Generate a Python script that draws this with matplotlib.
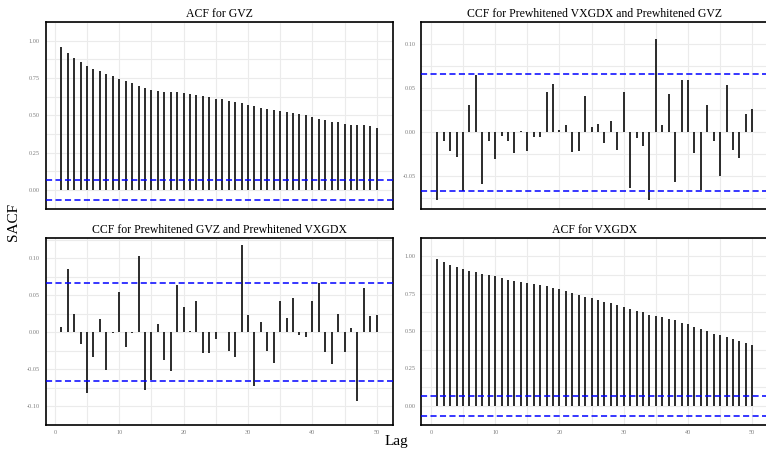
import numpy as np
import matplotlib
matplotlib.use('Agg')
import matplotlib.pyplot as plt

lags = list(range(1, 51))

acf_gvz = [0.956, 0.916, 0.882, 0.854, 0.832, 0.812, 0.794, 0.776, 0.762, 0.746,
           0.728, 0.714, 0.698, 0.682, 0.672, 0.662, 0.656, 0.656, 0.656, 0.650,
           0.644, 0.638, 0.630, 0.620, 0.612, 0.606, 0.598, 0.590, 0.580, 0.572,
           0.560, 0.548, 0.540, 0.532, 0.530, 0.524, 0.516, 0.508, 0.500, 0.488,
           0.476, 0.466, 0.458, 0.452, 0.440, 0.438, 0.436, 0.434, 0.428, 0.414]

ccf_vx_gvz = [-0.0773, -0.0100, -0.0216, -0.0277, -0.0665, 0.0306, 0.0645, -0.0586, -0.0100, -0.0303,
              -0.0043, -0.0099, -0.0230, 0.0014, -0.0210, -0.0058, -0.0058, 0.0457, 0.0545, 0.0025,
              0.0083, -0.0220, -0.0210, 0.0408, 0.0065, 0.0090, -0.0120, 0.0128, -0.0205, 0.0457,
              -0.0630, -0.0068, -0.0158, -0.0766, 0.1060, 0.0079, 0.0435, -0.0567, 0.0596, 0.0592,
              -0.0230, -0.0655, 0.0306, -0.0097, -0.0500, 0.0536, -0.0198, -0.0288, 0.0205, 0.0266]

ccf_gvz_vx = [0.0066, 0.0856, 0.0251, -0.0156, -0.0823, -0.0337, 0.0173, -0.0506, -0.0008, 0.0539,
              -0.0198, -0.0016, 0.1029, -0.0786, -0.0650, 0.0107, -0.0383, -0.0523, 0.0642, 0.0342,
              0.0020, 0.0428, -0.0288, -0.0288, -0.0097, 0.0006, -0.0251, -0.0335, 0.1177, 0.0235,
              -0.0728, 0.0132, -0.0256, -0.0420, 0.0421, 0.0189, 0.0463, -0.0037, -0.0062, 0.0418,
              0.0667, -0.0263, -0.0432, 0.0243, -0.0272, 0.0053, -0.0926, 0.0601, 0.0224, 0.0230]

acf_vx = [0.980, 0.961, 0.943, 0.928, 0.912, 0.900, 0.892, 0.881, 0.873, 0.865,
          0.855, 0.843, 0.836, 0.826, 0.820, 0.814, 0.808, 0.800, 0.789, 0.779,
          0.769, 0.755, 0.740, 0.728, 0.718, 0.708, 0.697, 0.687, 0.675, 0.661,
          0.648, 0.636, 0.624, 0.609, 0.601, 0.593, 0.583, 0.571, 0.556, 0.544,
          0.528, 0.511, 0.497, 0.483, 0.472, 0.460, 0.446, 0.434, 0.419, 0.405]

conf = 0.0664

panels = [
    ('ACF for GVZ', acf_gvz, [0.0, 0.25, 0.5, 0.75, 1.0], 0.125),
    ('CCF for Prewhitened VXGDX and Prewhitened GVZ', ccf_vx_gvz, [-0.05, 0.0, 0.05, 0.10], 0.025),
    ('CCF for Prewhitened GVZ and Prewhitened VXGDX', ccf_gvz_vx, [-0.10, -0.05, 0.0, 0.05, 0.10], 0.025),
    ('ACF for VXGDX', acf_vx, [0.0, 0.25, 0.5, 0.75, 1.0], 0.125),
]

W, H = 766, 453
# panel boxes in pixels: left, right, top, bottom
boxes = [(45.5, 392.5, 22, 208.5), (421.5, 768, 22, 208.5),
         (45.5, 392.5, 237.5, 424.5), (421.5, 768, 237.5, 424.5)]

plt.rcParams['font.family'] = ['Liberation Serif', 'DejaVu Serif']
plt.rcParams['axes.unicode_minus'] = False
fig = plt.figure(figsize=(W / 100, H / 100), dpi=100)

for i, ((title, vals, yticks, yminor), (l, r, t, b)) in enumerate(zip(panels, boxes)):
    ax = fig.add_axes([l / W, 1 - b / H, (r - l) / W, (b - t) / H])
    ax.set_facecolor('white')
    lo = min(min(vals), -conf)
    hi = max(max(vals), conf)
    span = hi - lo
    ax.set_ylim(lo - 0.05 * span, hi + 0.05 * span)
    ax.set_xlim(1 - 0.05 * 49, 50 + 0.05 * 49)

    ax.set_xticks([0, 10, 20, 30, 40, 50])
    ax.set_xticks([5, 15, 25, 35, 45], minor=True)
    ax.set_yticks(yticks)
    ax.set_yticks(np.arange(yticks[0] - yminor, yticks[-1] + 2 * yminor, 2 * yminor), minor=True)
    ax.set_yticklabels(['%.2f' % v for v in yticks])
    ax.grid(True, which='both', color='#ebebeb', linewidth=0.8, zorder=0)
    ax.set_axisbelow(True)

    ax.vlines(lags, 0, vals, color='#1a1a1a', linewidth=1.3, zorder=3)
    for c in (conf, -conf):
        ax.axhline(c, color='#0000ff', linewidth=1.1, linestyle=(0, (4, 2.2)), zorder=4)

    ax.tick_params(axis='both', which='both', length=0, labelsize=4.5,
                   labelcolor='#7f7f7f', pad=4)
    if i < 2:
        ax.tick_params(axis='x', labelbottom=False)
    for s in ax.spines.values():
        s.set_color('black')
        s.set_linewidth(1.2)
    ax.set_title(title, fontsize=8.5, pad=3.5)

fig.text(13 / W, 1 - 222 / H, 'SACF', rotation=90, ha='center', va='center', fontsize=11)
fig.text(396 / W, 1 - 441 / H, 'Lag', ha='center', va='center', fontsize=11)

fig.savefig('out.png', dpi=100)
